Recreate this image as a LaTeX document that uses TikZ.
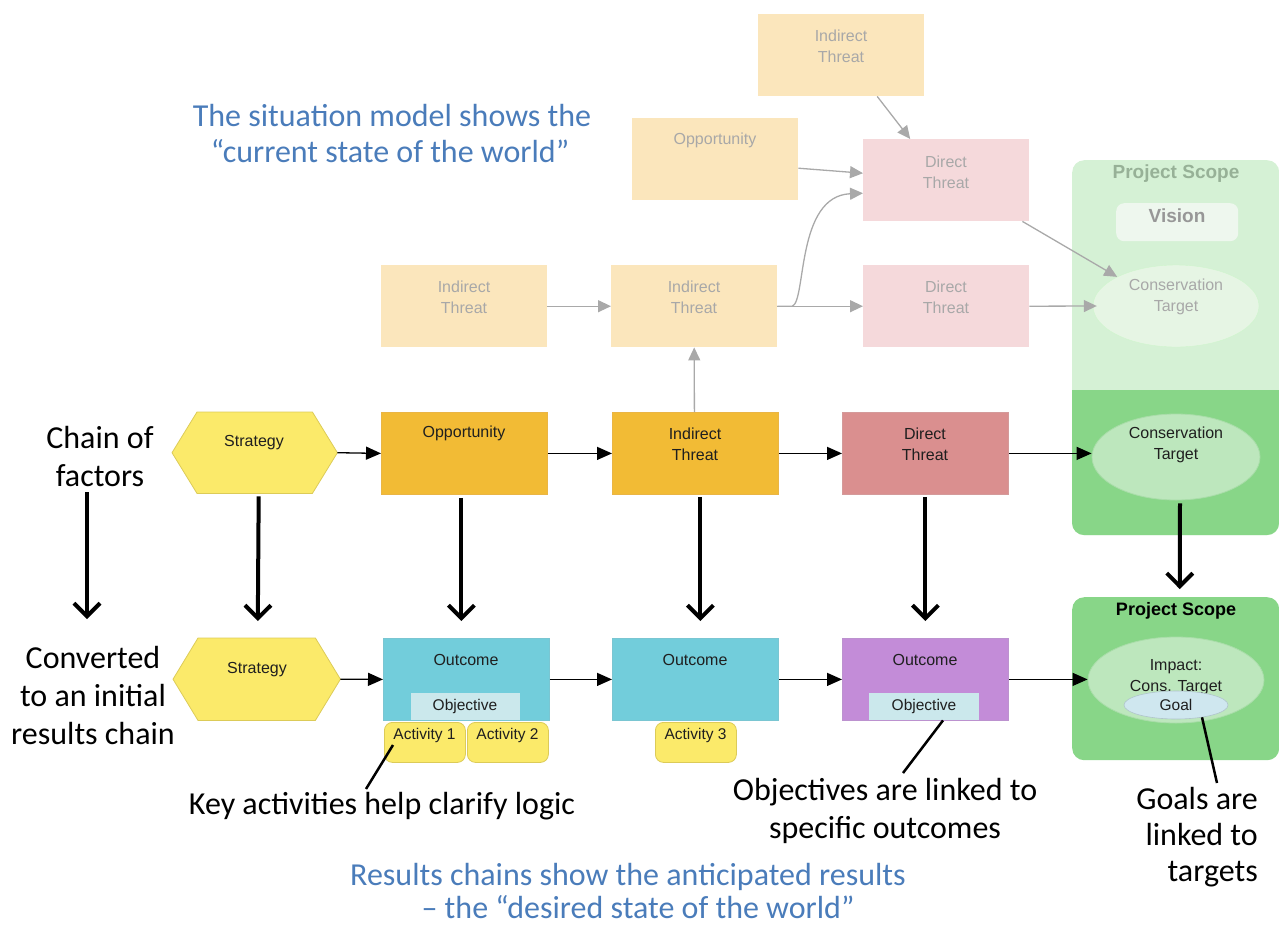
\documentclass[tikz,border=0pt]{standalone}
\usepackage{fontspec}
\setmainfont{Carlito}
\newfontfamily\arialf{Liberation Sans}
\usetikzlibrary{arrows.meta,shapes.geometric}
\definecolor{fadeor}{HTML}{FBE6BC}
\definecolor{fadepk}{HTML}{F5D9DB}
\definecolor{fadetx}{HTML}{A8A8A8}
\definecolor{fadeln}{HTML}{A9A9A9}
\definecolor{orng}{HTML}{F2BB35}
\definecolor{orngb}{HTML}{EAB545}
\definecolor{rosec}{HTML}{DA8F8F}
\definecolor{roseb}{HTML}{D49A9A}
\definecolor{yel}{HTML}{FBEA6A}
\definecolor{yelb}{HTML}{DCCB58}
\definecolor{cyanc}{HTML}{72CDDB}
\definecolor{cyanb}{HTML}{7AC6D2}
\definecolor{purp}{HTML}{C38CD8}
\definecolor{purpb}{HTML}{BC92CF}
\definecolor{objc}{HTML}{CBE8EC}
\definecolor{grn}{HTML}{88D688}
\definecolor{grnl}{HTML}{D5F1D5}
\definecolor{ellg}{HTML}{BDE7BD}
\definecolor{ellgb}{HTML}{A9DDA9}
\definecolor{fell}{HTML}{E6F5E4}
\definecolor{visc}{HTML}{EEF7EE}
\definecolor{goalc}{HTML}{CFE7EF}
\definecolor{bluet}{HTML}{4A7CBA}
\begin{document}
\begin{tikzpicture}[x=1pt,y=-1pt,
  box/.style={rectangle, minimum width=166, minimum height=82, inner sep=0, anchor=north west},
  ntx/.style={font=\arialf\fontsize{16}{21}\selectfont, align=center, inner sep=0, text=black!88},
  stx/.style={font=\arialf\fontsize{15.5}{18}\selectfont, align=center, inner sep=0, text=black!88},
  ftx/.style={ntx, text=fadetx},
  ann/.style={font=\fontsize{32}{38}\selectfont, align=center, inner sep=0},
  blu/.style={font=\fontsize{32}{36}\selectfont, anchor=base, inner sep=0, text=bluet},
  farr/.style={draw=fadeln, line width=1.3, -{Triangle[length=13,width=12]}},
  arr/.style={draw=black, line width=1.3, -{Triangle[length=15,width=13]}},
  big/.style={draw=black, line width=4, -{Straight Barb[length=13,width=26]}},
  call/.style={draw=black, line width=2.5},
  act/.style={rectangle, rounded corners=8, fill=yel, draw=yelb, line width=0.8, minimum width=81, minimum height=40, inner sep=0, anchor=north west},
  ell/.style={ellipse, inner sep=0},
]
\useasboundingbox (0,0) rectangle (1279,927);

% ---------- project scope boxes ----------
\node[rectangle, rounded corners=12, fill=grnl, minimum width=207, minimum height=375, anchor=north west, inner sep=0] (ps1) at (1072,160) {};
\begin{scope}
  \clip (1072,390) rectangle (1279,540);
  \fill[grn, rounded corners=12] (1072,160) rectangle (1279,535);
\end{scope}
\node[font=\arialf\bfseries\fontsize{19}{22}\selectfont, text=fadetx!90!green, inner sep=0] (ps1t) at (1176,174) {Project Scope};
\node[rectangle, rounded corners=8, fill=visc, minimum width=122, minimum height=38, anchor=north west, inner sep=0] (vis) at (1116,203) {};
\node[font=\arialf\bfseries\fontsize{19}{22}\selectfont, text=fadetx!90!black, inner sep=0] (vist) at (1177,216) {Vision};

\node[rectangle, rounded corners=12, fill=grn, minimum width=207, minimum height=163, anchor=north west, inner sep=0] (ps2) at (1072,597) {};
\node[font=\arialf\bfseries\fontsize{18}{22}\selectfont, inner sep=0] (ps2t) at (1176,611) {Project Scope};

% ---------- faded situation model ----------
\node[box, fill=fadeor] (fit1) at (758,14) {};
\node[ftx] (fit1t) at (841,46) {Indirect\\Threat};
\node[box, fill=fadeor] (fopp) at (632,118) {};
\node[ftx] (foppt) at (715,140) {Opportunity};
\node[box, fill=fadepk] (fdt1) at (863,139) {};
\node[ftx] (fdt1t) at (946,172) {Direct\\Threat};
\node[box, fill=fadeor] (fit2) at (381,265) {};
\node[ftx] (fit2t) at (464,297) {Indirect\\Threat};
\node[box, fill=fadeor] (fit3) at (611,265) {};
\node[ftx] (fit3t) at (694,297) {Indirect\\Threat};
\node[box, fill=fadepk] (fdt2) at (863,265) {};
\node[ftx] (fdt2t) at (946,297) {Direct\\Threat};
\node[ell, fill=fell, draw=fell!90!green, minimum width=166, minimum height=82] (fct) at (1176,306) {};
\node[ftx] (fctt) at (1176,297) {Conservation\\Target};

\draw[farr] ([xshift=36]fit1.south) -- ([xshift=-36]fdt1.north);
\draw[farr] ([yshift=-9]fopp.east) -- ([yshift=7]fdt1.west);
\draw[farr] (fit3.east) -- ++(15,0) .. controls +(14,-6) and (796,196) .. ([yshift=-13]fdt1.west);
\draw[farr] ([xshift=-7]fdt1.south east) -- (fct.north west);
\draw[farr] (fit2.east) -- (fit3.west);
\draw[farr] (fit3.east) -- (fdt2.west);
\draw[farr] (fdt2.east) -- ([xshift=4]fct.west);

% ---------- chain of factors ----------
\node[box, minimum width=165, minimum height=81] (s1) at (172,412) {};
\filldraw[fill=yel, draw=yelb, line width=0.8] (s1.west) -- ([xshift=25]s1.north west) -- ([xshift=-25]s1.north east) -- (s1.east) -- ([xshift=-25]s1.south east) -- ([xshift=25]s1.south west) -- cycle;
\node[ntx] (s1t) at (254,443) {Strategy};
\node[box, fill=orng, draw=orngb, line width=0.8] (opp) at (381,412) {};
\node[ntx] (oppt) at (464,433) {Opportunity};
\node[box, fill=orng, draw=orngb, line width=0.8] (it) at (612,412) {};
\node[ntx] (itt) at (695,444) {Indirect\\Threat};
\node[box, fill=rosec, draw=roseb, line width=0.8] (dt) at (842,412) {};
\node[ntx] (dtt) at (925,444) {Direct\\Threat};
\node[ell, fill=ellg, draw=ellgb, line width=0.8, minimum width=168, minimum height=86] (ct) at (1176,457) {};
\node[ntx] (ctt) at (1176,445) {Conservation\\Target};

\draw[farr] ([xshift=-1]it.north) -- (fit3.south);
\draw[arr] (s1.east) -- (opp.west);
\draw[arr] (opp.east) -- (it.west);
\draw[arr] (it.east) -- (dt.west);
\draw[arr] (dt.east) -- (dt.east -| ct.west);

% ---------- results chain ----------
\node[box, minimum width=167, minimum height=82] (s2) at (173,638) {};
\filldraw[fill=yel, draw=yelb, line width=0.8] (s2.west) -- ([xshift=25]s2.north west) -- ([xshift=-25]s2.north east) -- (s2.east) -- ([xshift=-25]s2.south east) -- ([xshift=25]s2.south west) -- cycle;
\node[ntx] (s2t) at (257,670) {Strategy};
\node[box, fill=cyanc, draw=cyanb, line width=0.8] (oc1) at (383,638) {};
\node[ntx] (oc1t) at (466,660) {Outcome};
\node[rectangle, fill=objc, minimum width=109, minimum height=27, anchor=north west, inner sep=0] (ob1) at (411,693) {};
\node[stx] (ob1t) at (465,706) {Objective};
\node[act] (a1) at (384,722) {};
\node[stx] (a1t) at (424.5,735) {Activity 1};
\node[act] (a2) at (467,722) {};
\node[stx] (a2t) at (507.5,735) {Activity 2};
\node[box, fill=cyanc, draw=cyanb, line width=0.8] (oc2) at (612,638) {};
\node[ntx] (oc2t) at (695,660) {Outcome};
\node[act] (a3) at (655,722) {};
\node[stx] (a3t) at (695.5,735) {Activity 3};
\node[box, fill=purp, draw=purpb, line width=0.8] (oc3) at (842,638) {};
\node[ntx] (oc3t) at (925,660) {Outcome};
\node[rectangle, fill=objc, minimum width=110, minimum height=27, anchor=north west, inner sep=0] (ob3) at (869,693) {};
\node[stx] (ob3t) at (924,706) {Objective};
\node[ell, fill=ellg, draw=ellgb, line width=0.8, minimum width=176, minimum height=86] (imp) at (1176,680) {};
\node[ntx] (impt) at (1176,677) {Impact:\\Cons. Target};
\node[ell, fill=goalc, draw=goalc!85!black, line width=0.6, minimum width=104, minimum height=28] (goal) at (1176,705) {};
\node[stx] (goalt) at (1176,705) {Goal};

\draw[arr] (s2.east) -- (oc1.west);
\draw[arr] (oc1.east) -- (oc2.west);
\draw[arr] (oc2.east) -- (oc3.west);
\draw[arr] (oc3.east) -- (oc3.east -| imp.west);

% ---------- conversion arrows ----------
\draw[big, shorten <=3, shorten >=17] ([xshift=4]s1.south) -- ([xshift=1]s2.north);
\draw[big, shorten <=3, shorten >=17] ([xshift=-3]opp.south) -- ([xshift=-5]oc1.north);
\draw[big, shorten <=2, shorten >=17] ([xshift=5]it.south) -- ([xshift=5]oc2.north);
\draw[big, shorten <=2, shorten >=17] (dt.south) -- (oc3.north);
\draw[big, shorten <=3, shorten >=8] ([xshift=4]ct.south) -- ([xshift=4]ps2.north);

% ---------- annotations ----------
\node[ann] (cf) at (100,456) {Chain of\\factors};
\node[ann] (conv) at (93,695) {Converted\\to an initial\\results chain};
\draw[big] (87,492) -- (87,619);

\node[blu] (sit1) at (392,126) {The situation model shows the};
\node[blu] (sit2) at (390,162) {\char"201C current state of the world\char"201D};
\node[blu] (res1) at (628,885) {Results chains show the anticipated results};
\node[blu] (res2) at (638,918) {\char"2013{} the \char"201C desired state of the world\char"201D};

\node[ann] (kat) at (382,806) {Key activities help clarify logic};
\coordinate (k1) at (366,789);
\draw[call] ([shift={(9,23)}]a1.north west) -- (k1);

\node[ann] (objt) at (885,811) {Objectives are linked to\\specific outcomes};
\coordinate (k2) at (903,773);
\draw[call] ([shift={(74,0)}]ob3.south west) -- (k2);

\node[ann, align=right, anchor=east, font=\fontsize{32}{36}\selectfont] (gl) at (1258,837) {Goals are\\linked to\\targets};
\coordinate (k3) at (1217,783);
\draw[call] ([shift={(26,-2)}]goal.south) -- (k3);
\end{tikzpicture}
\end{document}
